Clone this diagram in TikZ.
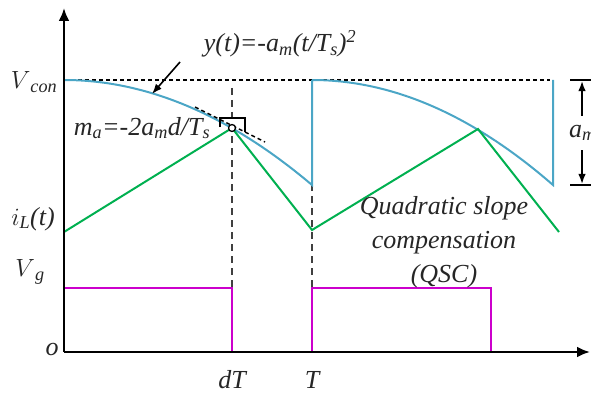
\documentclass[tikz,border=0pt]{standalone}
\usepackage{fontspec}
\setmainfont{Liberation Serif}
\usepackage{tikz}
\usetikzlibrary{positioning,arrows.meta}

\definecolor{qscblue}{HTML}{4BA6C6}
\definecolor{qscgreen}{HTML}{00B050}
\definecolor{qscpink}{HTML}{CC00CC}

\begin{document}
\begin{tikzpicture}[x=1pt,y=-1pt,>=Latex,
			every node/.style={
				inner sep=0pt,
				align=center,
				text=black!85,
				font=\fontsize{26}{34}\selectfont\itshape
			},
			axis/.style={line width=2.4pt,-{Latex[length=13pt,width=11pt]}},
			wave/.style={line width=2pt},
			guide/.style={line width=1.1pt,dash pattern=on 7pt off 5pt,black!75},
			dots/.style={line width=1.4pt,dash pattern=on 4pt off 3pt}]
			
			\clip (0,0) rectangle (591,393);
			
			% time marks
			\coordinate (o) at (64,352);
			\coordinate (ytop) at (64,8);
			\coordinate (xend) at (590,352);
			\coordinate (peakA) at (232,128);
			\coordinate (peakB) at (478,129);
			
			% guides
			\draw[dots](64,80)--(550,80);
			\draw[guide](232,88)--(232,352);
			\draw[guide](312,148)--(312,352);
			
			% gate signal
			\draw[wave,qscpink](64,288)--(232,288)--(232,352)--(312,352)--(312,288)--(491,288)--(491,352)--(553,352);
			
			% compensation ramp
			\draw[wave,qscblue] plot[domain=64:312,samples=60] (\x,{80+105*((\x-64)/248)^2}) -- (312,80)
				plot[domain=312:553,samples=60] (\x,{80+105*((\x-312)/241)^2}) -- (553,80);
			
			% inductor current
			\draw[wave,qscgreen](64,232)--(peakA)--(312,230)--(peakB)--(559,232);
			
			% axes
			\draw[axis](o)--(ytop);
			\draw[axis](o)--(xend);
			
			% tangent at dT
			\draw[dots](195,107)--(265,142);
			\draw[line width=1.6pt](220,127)|-(245,118)--(245,132);
			\draw[line width=1.3pt,fill=white](peakA) circle (3.5);
			
			% labels
			\node (vcon) at (34,82){$V$\textsubscript{\itshape con}};
			\node (il) at (33,219){$i$\textsubscript{\itshape L}(t)};
			\node (vg) at (30,272){$V$\textsubscript{\itshape g}};
			\node (orig) at (52,349){o};
			\node (dT) at (232,380){dT};
			\node (T) at (312,380){T};
			
			\node (yt) at (280,44){y(t)=-a\textsubscript{\itshape m}(t/T\textsubscript{\itshape s})\textsuperscript{\itshape 2}};
			\coordinate (ytail) at (180,62);
			\coordinate (yhead) at (152,94);
			\draw[line width=1.6pt,->](ytail)--(yhead);
			
			\node (ma) at (142,128){m\textsubscript{\itshape a}=-2a\textsubscript{\itshape m}d/T\textsubscript{\itshape s}};
			
			\node (qsc) at (444,242){Quadratic slope\\compensation\\(QSC)};
			
			% amplitude a_m
			\draw[line width=1.6pt](570,80)--(591,80);
			\draw[line width=1.6pt](570,185)--(591,185);
			\node[anchor=west] (am) at (569,133){a\textsubscript{\itshape m}};
			\coordinate (amtop) at (582,81);
			\coordinate (ambot) at (582,184);
			\draw[line width=1.6pt,->](582,116)--(amtop);
			\draw[line width=1.6pt,->](582,150)--(ambot);
			
		\end{tikzpicture}
\end{document}
